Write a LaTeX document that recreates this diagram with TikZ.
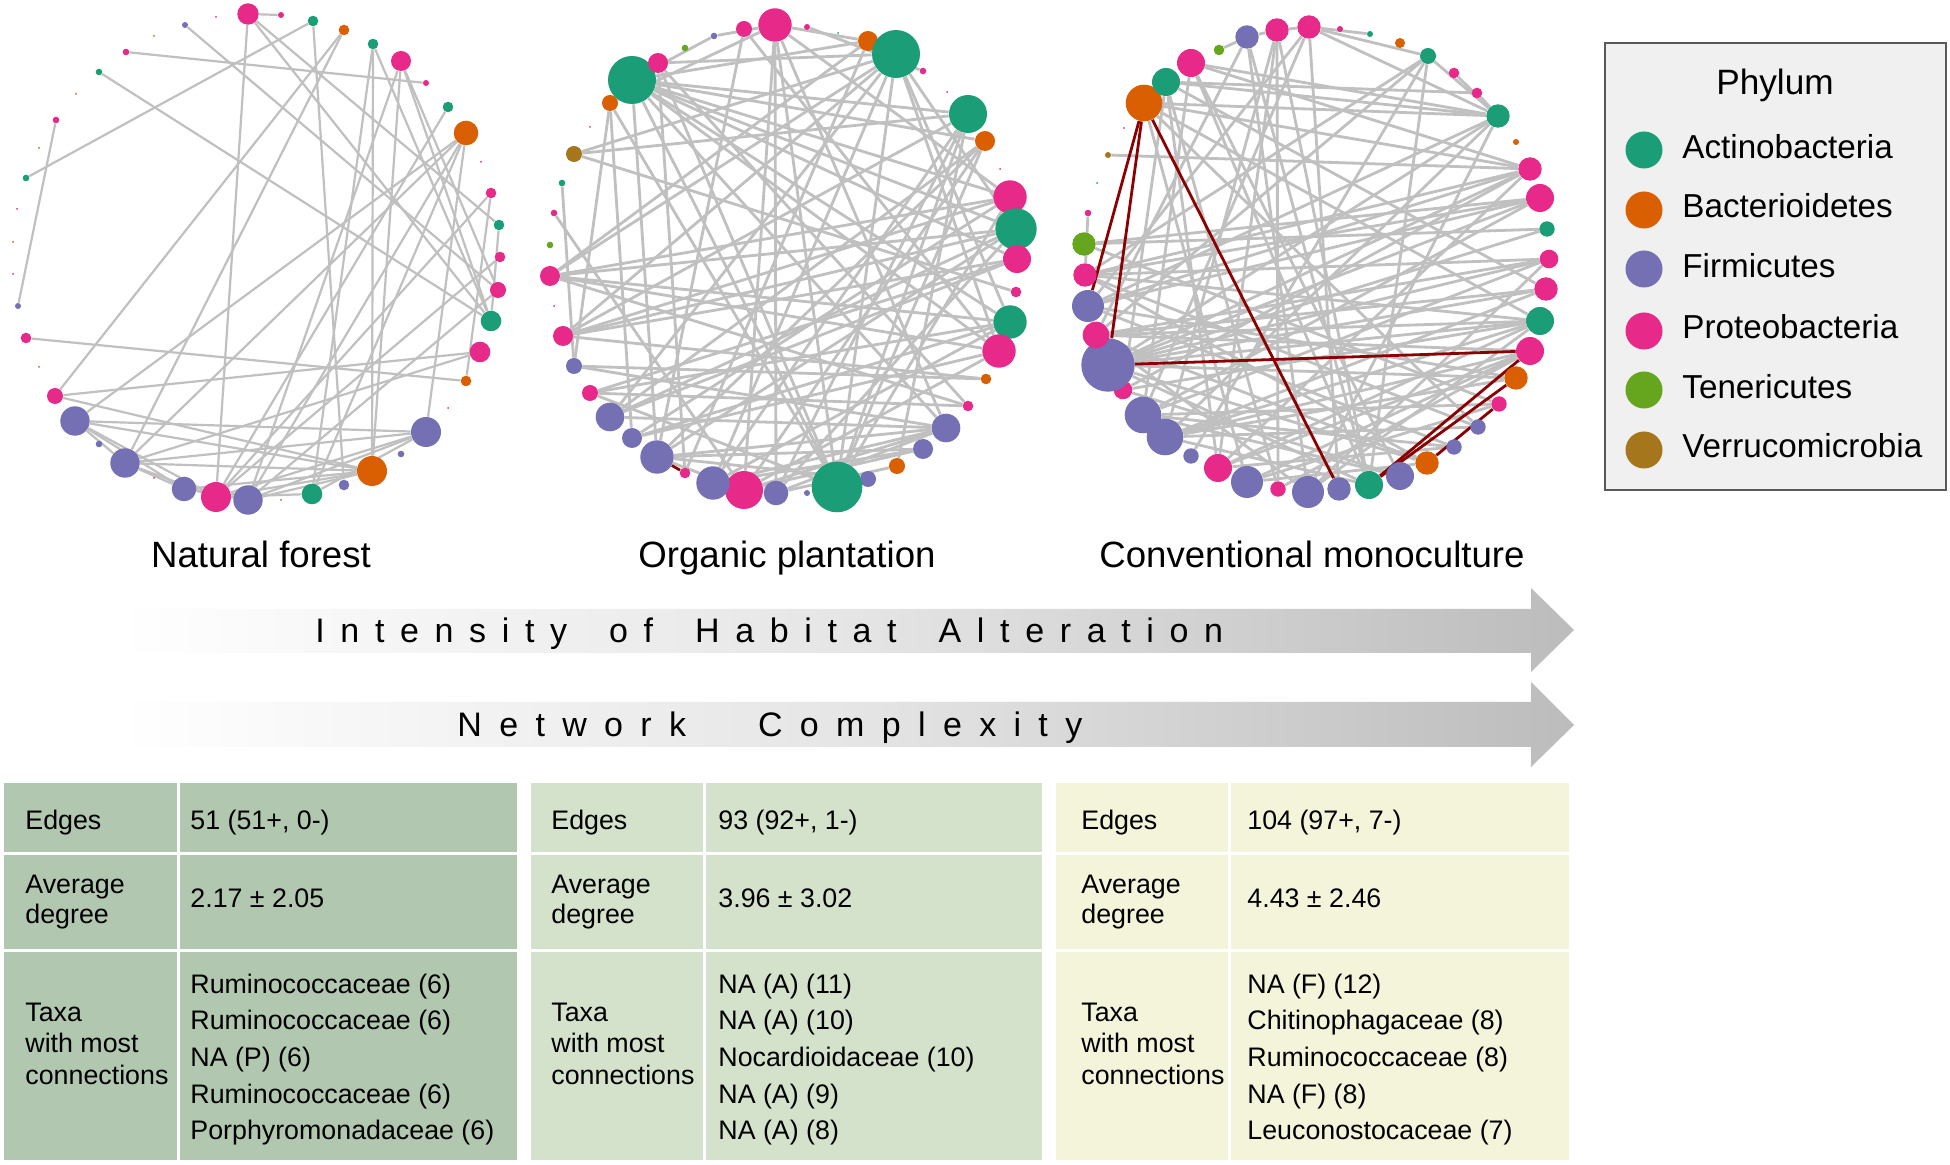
\documentclass[tikz,border=0pt]{standalone}
\usepackage{fontspec}
\setmainfont{Liberation Sans}
\newfontfamily\spacedA[LetterSpace=46]{Liberation Sans}
\newfontfamily\spacedB[LetterSpace=51]{Liberation Sans}
\usetikzlibrary{backgrounds}
\definecolor{act}{HTML}{1B9E77}
\definecolor{bac}{HTML}{D95F02}
\definecolor{fir}{HTML}{7570B3}
\definecolor{pro}{HTML}{E7298A}
\definecolor{ten}{HTML}{66A61E}
\definecolor{ver}{HTML}{A6761D}
\definecolor{edgegray}{HTML}{C0C0C0}
\definecolor{neg}{HTML}{8B0000}
\definecolor{tabA}{HTML}{B2C7B0}
\definecolor{tabB}{HTML}{D5E2CB}
\definecolor{tabC}{HTML}{F4F4DA}
\definecolor{legfill}{HTML}{F0F0F0}
\definecolor{arrgray}{HTML}{BCBCBC}
\newcommand\nd[5]{\node[circle,inner sep=0pt,minimum size=#4pt,fill=#5] (#1) at (#2,#3) {};}
\begin{document}
\begin{tikzpicture}[x=0.5pt,y=-0.5pt,
  eg/.style={draw=edgegray,line width=1.4pt},
  egthin/.style={draw=edgegray,line width=1.1pt},
  egneg/.style={draw=neg,line width=1.4pt},
  tx/.style={inner sep=0pt,anchor=base west,font=\fontsize{13.4pt}{15pt}\selectfont},
  lab/.style={inner sep=0pt,anchor=base,font=\fontsize{18.3pt}{21pt}\selectfont},
  legtx/.style={inner sep=0pt,anchor=base west,font=\fontsize{16.6pt}{19pt}\selectfont},
  legdot/.style={circle,inner sep=0pt,minimum size=18.5pt}]
\useasboundingbox (0,0) rectangle (1950,1165);

% ---------- Network 1: Natural forest ----------
\nd{a1}{248}{14}{10.7}{pro}
\nd{a2}{281}{15}{3}{pro}
\nd{a3}{313}{21}{5.3}{act}
\nd{a4}{344}{30}{5.3}{bac}
\nd{a5}{373}{44}{5.3}{act}
\nd{a6}{401}{61}{10}{pro}
\nd{a7}{426}{83}{3}{pro}
\nd{a8}{448}{107}{5.3}{act}
\nd{a9}{466}{133}{12.3}{bac}
\nd{a10}{481}{162}{1}{pro}
\nd{a11}{491}{193}{5.3}{pro}
\nd{a12}{499}{225}{5.3}{act}
\nd{a13}{500}{257}{5.3}{pro}
\nd{a14}{498}{290}{8}{pro}
\nd{a15}{491}{321}{10.3}{act}
\nd{a16}{480}{352}{10.3}{pro}
\nd{a17}{466}{381}{5.3}{bac}
\nd{a18}{448}{408}{1}{pro}
\nd{a19}{426}{432}{15}{fir}
\nd{a20}{401}{454}{3.3}{fir}
\nd{a21}{372}{471}{15}{bac}
\nd{a22}{344}{485}{5.3}{fir}
\nd{a23}{312}{494}{10.3}{act}
\nd{a24}{281}{500}{1}{ver}
\nd{a25}{248}{500}{14.7}{fir}
\nd{a26}{216}{497}{15}{pro}
\nd{a27}{184}{489}{12.3}{fir}
\nd{a28}{154}{478}{1}{pro}
\nd{a29}{125}{463}{14.7}{fir}
\nd{a30}{99}{444}{3.3}{fir}
\nd{a31}{75}{421}{14.7}{fir}
\nd{a32}{55}{396}{8}{pro}
\nd{a33}{39}{367}{1}{ver}
\nd{a34}{26}{338}{5.3}{pro}
\nd{a35}{18}{306}{3}{fir}
\nd{a36}{13}{274}{1}{pro}
\nd{a37}{13}{242}{1}{ver}
\nd{a38}{17}{209}{1}{pro}
\nd{a39}{26}{178}{3.3}{act}
\nd{a40}{39}{148}{1}{ver}
\nd{a41}{56}{120}{3.3}{pro}
\nd{a42}{76}{94}{1}{bac}
\nd{a43}{99}{72}{3.3}{act}
\nd{a44}{126}{52}{3.3}{pro}
\nd{a45}{154}{36}{1}{ver}
\nd{a46}{185}{25}{3}{fir}
\nd{a47}{216}{17}{1}{pro}

% ---------- Network 2: Organic plantation ----------
\nd{b1}{744}{29}{8}{pro}
\nd{b2}{775}{25}{16.7}{pro}
\nd{b3}{807}{27}{3}{pro}
\nd{b4}{838}{33}{1}{act}
\nd{b5}{868}{41}{10}{bac}
\nd{b6}{896}{54}{24}{act}
\nd{b7}{923}{71}{3.3}{pro}
\nd{b8}{947}{92}{1}{pro}
\nd{b9}{968}{114}{19}{act}
\nd{b10}{985}{141}{10}{bac}
\nd{b11}{1000}{169}{1}{pro}
\nd{b12}{1010}{197}{16.7}{pro}
\nd{b13}{1016}{229}{20.7}{act}
\nd{b14}{1017}{259}{14}{pro}
\nd{b15}{1016}{292}{5.3}{pro}
\nd{b16}{1010}{322}{16.7}{act}
\nd{b17}{999}{351}{16.7}{pro}
\nd{b18}{986}{379}{5.3}{bac}
\nd{b19}{968}{406}{5.3}{pro}
\nd{b20}{946}{428}{14.3}{fir}
\nd{b21}{923}{449}{10}{fir}
\nd{b22}{897}{466}{8}{bac}
\nd{b23}{868}{479}{8}{fir}
\nd{b24}{837}{487}{25.3}{act}
\nd{b25}{807}{493}{3}{fir}
\nd{b26}{776}{493}{12.3}{fir}
\nd{b27}{744}{490}{19}{pro}
\nd{b28}{713}{483}{16.7}{fir}
\nd{b29}{685}{473}{5.3}{pro}
\nd{b30}{657}{457}{16.7}{fir}
\nd{b31}{632}{438}{10}{fir}
\nd{b32}{610}{417}{14.3}{fir}
\nd{b33}{590}{393}{8}{pro}
\nd{b34}{574}{366}{8}{fir}
\nd{b35}{563}{336}{10}{pro}
\nd{b36}{554}{306}{1}{pro}
\nd{b37}{550}{276}{10}{pro}
\nd{b38}{550}{245}{3.3}{ten}
\nd{b39}{554}{213}{3.3}{pro}
\nd{b40}{562}{183}{3.3}{act}
\nd{b41}{574}{154}{8}{ver}
\nd{b42}{590}{127}{1}{pro}
\nd{b43}{610}{103}{8}{bac}
\nd{b44}{632}{80}{24}{act}
\nd{b45}{658}{63}{10}{pro}
\nd{b46}{685}{48}{3.3}{ten}
\nd{b47}{714}{36}{3.3}{fir}

% ---------- Network 3: Conventional monoculture ----------
\nd{c1}{1277}{30}{11.7}{pro}
\nd{c2}{1309}{27}{11.7}{pro}
\nd{c3}{1340}{29}{3}{pro}
\nd{c4}{1370}{34}{3}{act}
\nd{c5}{1400}{43}{5}{bac}
\nd{c6}{1428}{56}{8}{act}
\nd{c7}{1454}{73}{5.3}{pro}
\nd{c8}{1477}{93}{5.3}{pro}
\nd{c9}{1498}{116}{11.7}{act}
\nd{c10}{1516}{142}{3}{bac}
\nd{c11}{1530}{169}{11.7}{pro}
\nd{c12}{1540}{198}{14}{pro}
\nd{c13}{1547}{229}{7.7}{act}
\nd{c14}{1549}{259}{9.3}{pro}
\nd{c15}{1546}{289}{11.7}{pro}
\nd{c16}{1540}{321}{14}{act}
\nd{c17}{1530}{351}{14}{pro}
\nd{c18}{1516}{378}{11.7}{bac}
\nd{c19}{1499}{404}{7.7}{pro}
\nd{c20}{1478}{427}{7.7}{fir}
\nd{c21}{1454}{447}{7.7}{fir}
\nd{c22}{1427}{463}{11.7}{bac}
\nd{c23}{1400}{476}{14}{fir}
\nd{c24}{1369}{485}{14}{act}
\nd{c25}{1339}{489}{11.7}{fir}
\nd{c26}{1308}{492}{16}{fir}
\nd{c27}{1278}{489}{7.7}{pro}
\nd{c28}{1247}{482}{16}{fir}
\nd{c29}{1218}{468}{14}{pro}
\nd{c30}{1191}{456}{7.7}{fir}
\nd{c31}{1165}{437}{18.3}{fir}
\nd{c32}{1143}{415}{18.3}{fir}
\nd{c33}{1123}{390}{9.3}{pro}
\nd{c34}{1108}{365}{26.7}{fir}
\nd{c35}{1096}{335}{13.3}{pro}
\nd{c36}{1088}{306}{16}{fir}
\nd{c37}{1085}{275}{11.7}{pro}
\nd{c38}{1084}{244}{11.7}{ten}
\nd{c39}{1088}{213}{3.3}{pro}
\nd{c40}{1097}{183}{1}{act}
\nd{c41}{1108}{155}{3}{ver}
\nd{c42}{1124}{128}{1}{pro}
\nd{c43}{1144}{103}{18.3}{bac}
\nd{c44}{1166}{82}{14}{act}
\nd{c45}{1191}{63}{14}{pro}
\nd{c46}{1219}{50}{5.3}{ten}
\nd{c47}{1247}{37}{11.7}{fir}

\begin{scope}[on background layer]
\fill[white] (0,0) rectangle (1950,1165);
\foreach \s/\t in {a1/a2,a1/a26,a1/a15,a1/a12,a44/a7,a46/a14,a43/a15,a3/a39,a3/a22,a4/a32,
  a4/a29,a5/a23,a5/a21,a5/a15,a6/a15,a6/a14,a6/a21,a41/a35,a34/a17,a32/a16,
  a8/a26,a9/a31,a9/a29,a9/a25,a9/a19,a9/a23,a11/a17,a11/a26,a12/a15,a31/a19,
  a31/a21,a31/a27,a31/a26,a29/a19,a29/a21,a29/a26,a27/a21,a27/a25,a26/a19,a26/a23,
  a25/a21,a25/a19,a26/a21,a23/a19,a29/a31,a27/a29,a32/a21,a13/a26,a14/a25,a16/a29,a6/a25}
  \draw[egthin] (\s) -- (\t);
\foreach \s/\t in {b44/b9,b44/b12,b44/b13,b44/b16,b44/b17,b44/b10,b44/b20,b44/b24,b44/b5,b44/b30,
  b44/b14,b6/b37,b6/b35,b6/b32,b6/b28,b6/b24,b6/b16,b6/b13,b6/b17,b6/b41,
  b6/b45,b24/b9,b24/b2,b24/b45,b24/b43,b24/b33,b24/b12,b24/b10,b13/b37,b13/b30,
  b13/b26,b13/b35,b9/b41,b9/b35,b9/b28,b9/b22,b16/b37,b16/b33,b16/b31,b2/b5,
  b2/b26,b2/b27,b2/b20,b2/b47,b2/b43,b2/b12,b1/b30,b1/b17,b5/b29,b5/b37,
  b10/b30,b10/b32,b10/b27,b12/b35,b12/b31,b14/b32,b14/b33,b17/b37,b17/b27,b20/b32,
  b20/b30,b20/b28,b20/b27,b20/b34,b20/b26,b21/b27,b21/b30,b21/b28,b22/b26,b23/b30,
  b27/b30,b27/b28,b27/b26,b35/b18,b37/b19,b40/b34,b39/b27,b43/b34,b43/b31,b45/b19,
  b45/b29,b47/b44,b33/b19,b34/b18,b41/b15,b3/b7,b31/b17,b28/b16,b26/b9,b32/b13,
  b35/b14,b37/b12}
  \draw[eg] (\s) -- (\t);
\draw[egneg] (b30) -- (b29);
\foreach \s/\t in {c34/c11,c34/c12,c34/c15,c34/c16,c34/c9,c34/c14,c34/c18,c34/c22,c34/c24,c34/c13,
  c43/c9,c43/c11,c43/c16,c43/c28,c43/c20,c36/c12,c36/c11,c36/c9,c36/c18,c36/c2,
  c36/c21,c31/c17,c31/c18,c31/c20,c31/c16,c31/c1,c31/c15,c31/c9,c31/c24,c32/c19,
  c32/c14,c32/c45,c32/c2,c32/c23,c32/c12,c32/c21,c24/c47,c24/c45,c24/c1,c24/c6,
  c22/c35,c22/c37,c44/c9,c44/c15,c44/c29,c44/c27,c44/c33,c44/c8,c45/c9,c45/c23,
  c45/c11,c47/c46,c47/c1,c47/c26,c47/c35,c1/c27,c1/c29,c1/c2,c2/c9,c2/c4,
  c2/c6,c2/c25,c6/c9,c6/c37,c6/c30,c6/c35,c9/c7,c9/c8,c9/c26,c11/c37,
  c11/c33,c11/c29,c12/c38,c12/c37,c16/c33,c16/c35,c16/c37,c17/c29,c17/c28,c17/c35,
  c35/c15,c35/c14,c35/c26,c37/c39,c37/c14,c37/c20,c38/c13,c38/c19,c33/c23,c28/c19,
  c28/c22,c29/c21,c29/c16,c26/c16,c26/c14,c27/c17,c41/c11}
  \draw[eg] (\s) -- (\t);
\foreach \s/\t in {c43/c36,c43/c34,c43/c25,c34/c17,c24/c17,c24/c18,c22/c19}
  \draw[egneg] (\s) -- (\t);
\end{scope}

% ---------- network labels ----------
\node[lab] (lab1) at (261,568) {Natural forest};
\node[lab] (lab2) at (787,568) {Organic plantation};
\node[lab] (lab3) at (1312,568) {Conventional monoculture};

% ---------- legend ----------
\draw[fill=legfill,draw=black!65,line width=1pt] (1605,43) rectangle (1946,490);
\node[inner sep=0pt,anchor=base,font=\fontsize{17.6pt}{20pt}\selectfont] (legt) at (1775,95) {Phylum};
\node[legdot,fill=act] (l1) at (1644,150) {};
\node[legdot,fill=bac] (l2) at (1644,210) {};
\node[legdot,fill=fir] (l3) at (1644,269) {};
\node[legdot,fill=pro] (l4) at (1644,331) {};
\node[legdot,fill=ten] (l5) at (1644,390) {};
\node[legdot,fill=ver] (l6) at (1644,450) {};
\node[legtx] (lt1) at (1682,159) {Actinobacteria};
\node[legtx] (lt2) at (1682,218) {Bacterioidetes};
\node[legtx] (lt3) at (1682,278) {Firmicutes};
\node[legtx] (lt4) at (1682,339) {Proteobacteria};
\node[legtx] (lt5) at (1682,399) {Tenericutes};
\node[legtx] (lt6) at (1682,458) {Verrucomicrobia};

% ---------- gradient arrows ----------
\shade[left color=white,right color=arrgray,middle color=black!10]
  (118,609) -- (1531,609) -- (1531,588) -- (1574,630) -- (1531,672) -- (1531,653) -- (118,653) -- cycle;
\shade[left color=white,right color=arrgray,middle color=black!10]
  (118,702) -- (1531,702) -- (1531,682) -- (1574,725) -- (1531,767) -- (1531,747) -- (118,747) -- cycle;
\node[inner sep=0pt,anchor=base west,font=\spacedA\fontsize{17pt}{20pt}\selectfont] (ar1) at (315,643)
  {Intensity\hspace{21pt}of\hspace{21pt}Habitat\hspace{21pt}Alteration};
\node[inner sep=0pt,anchor=base west,font=\spacedB\fontsize{17pt}{20pt}\selectfont] (ar2) at (457,737)
  {Network\hspace{36pt}Complexity};

% ---------- tables ----------
\fill[tabA] (4,783) rectangle (517,1160);
\fill[tabB] (531,783) rectangle (1042,1160);
\fill[tabC] (1056,783) rectangle (1569,1160);
\foreach \l/\c/\r in {4/178/517,531/704/1042,1056/1229/1569}{
  \draw[white,line width=1.5pt] (\c,783) -- (\c,1160);
  \draw[white,line width=1.5pt] (\l,853) -- (\r,853);
  \draw[white,line width=1.5pt] (\l,950) -- (\r,950);
}
% panel 1
\node[tx] (p1e) at (25,829) {Edges};
\node[tx] (p1ev) at (190,829) {51 (51+, 0-)};
\node[tx] (p1a1) at (25,893) {Average};
\node[tx] (p1a2) at (25,923) {degree};
\node[tx] (p1av) at (190,907) {2.17 ± 2.05};
\node[tx] (p1t1) at (25,1021) {Taxa};
\node[tx] (p1t2) at (25,1052) {with most};
\node[tx] (p1t3) at (25,1084) {connections};
\node[tx] (p1v1) at (190,993) {Ruminococcaceae (6)};
\node[tx] (p1v2) at (190,1029) {Ruminococcaceae (6)};
\node[tx] (p1v3) at (190,1066) {NA (P) (6)};
\node[tx] (p1v4) at (190,1103) {Ruminococcaceae (6)};
\node[tx] (p1v5) at (190,1139) {Porphyromonadaceae (6)};
% panel 2
\node[tx] (p2e) at (551,829) {Edges};
\node[tx] (p2ev) at (718,829) {93 (92+, 1-)};
\node[tx] (p2a1) at (551,893) {Average};
\node[tx] (p2a2) at (551,923) {degree};
\node[tx] (p2av) at (718,907) {3.96 ± 3.02};
\node[tx] (p2t1) at (551,1021) {Taxa};
\node[tx] (p2t2) at (551,1052) {with most};
\node[tx] (p2t3) at (551,1084) {connections};
\node[tx] (p2v1) at (718,993) {NA (A) (11)};
\node[tx] (p2v2) at (718,1029) {NA (A) (10)};
\node[tx] (p2v3) at (718,1066) {Nocardioidaceae (10)};
\node[tx] (p2v4) at (718,1103) {NA (A) (9)};
\node[tx] (p2v5) at (718,1139) {NA (A) (8)};
% panel 3
\node[tx] (p3e) at (1081,829) {Edges};
\node[tx] (p3ev) at (1247,829) {104 (97+, 7-)};
\node[tx] (p3a1) at (1081,893) {Average};
\node[tx] (p3a2) at (1081,923) {degree};
\node[tx] (p3av) at (1247,907) {4.43 ± 2.46};
\node[tx] (p3t1) at (1081,1021) {Taxa};
\node[tx] (p3t2) at (1081,1052) {with most};
\node[tx] (p3t3) at (1081,1084) {connections};
\node[tx] (p3v1) at (1247,993) {NA (F) (12)};
\node[tx] (p3v2) at (1247,1029) {Chitinophagaceae (8)};
\node[tx] (p3v3) at (1247,1066) {Ruminococcaceae (8)};
\node[tx] (p3v4) at (1247,1103) {NA (F) (8)};
\node[tx] (p3v5) at (1247,1139) {Leuconostocaceae (7)};
\end{tikzpicture}
\end{document}
